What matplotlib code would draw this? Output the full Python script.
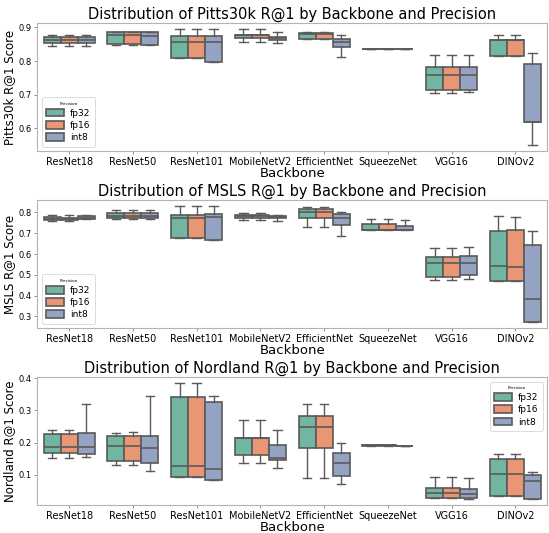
import colorsys
import matplotlib
matplotlib.use("Agg")
import matplotlib.pyplot as plt
from matplotlib.patches import Patch

backbones = ['ResNet18', 'ResNet50', 'ResNet101', 'MobileNetV2', 'EfficientNet',
             'SqueezeNet', 'VGG16', 'DINOv2']
precisions = ['fp32', 'fp16', 'int8']

# (whisker low, Q1, median, Q3, whisker high) per backbone
pitts_fp32 = [(0.846, 0.855, 0.864, 0.870, 0.877), (0.848, 0.850, 0.877, 0.886, 0.887),
              (0.809, 0.809, 0.858, 0.875, 0.895), (0.857, 0.868, 0.876, 0.878, 0.895),
              (0.866, 0.866, 0.879, 0.882, 0.885), (0.836, 0.836, 0.836, 0.837, 0.837),
              (0.706, 0.715, 0.759, 0.782, 0.819), (0.814, 0.814, 0.864, 0.864, 0.876)]
pitts_fp16 = [(0.846, 0.855, 0.864, 0.870, 0.877), (0.848, 0.850, 0.877, 0.886, 0.887),
              (0.809, 0.809, 0.858, 0.875, 0.895), (0.857, 0.868, 0.876, 0.878, 0.895),
              (0.866, 0.866, 0.879, 0.882, 0.885), (0.836, 0.836, 0.836, 0.837, 0.837),
              (0.706, 0.715, 0.759, 0.782, 0.819), (0.814, 0.814, 0.864, 0.864, 0.876)]
pitts_int8 = [(0.846, 0.855, 0.864, 0.871, 0.878), (0.847, 0.849, 0.873, 0.886, 0.887),
              (0.797, 0.797, 0.858, 0.874, 0.896), (0.853, 0.862, 0.867, 0.872, 0.887),
              (0.811, 0.843, 0.856, 0.866, 0.877), (0.835, 0.835, 0.836, 0.837, 0.837),
              (0.707, 0.715, 0.757, 0.782, 0.819), (0.549, 0.620, 0.620, 0.790, 0.823)]

msls_fp32 = [(0.760, 0.763, 0.768, 0.776, 0.790), (0.767, 0.771, 0.783, 0.795, 0.810),
             (0.676, 0.676, 0.773, 0.787, 0.832), (0.765, 0.773, 0.781, 0.787, 0.795),
             (0.729, 0.773, 0.802, 0.816, 0.824), (0.716, 0.716, 0.717, 0.744, 0.767),
             (0.475, 0.490, 0.557, 0.586, 0.630), (0.470, 0.470, 0.543, 0.713, 0.783)]
msls_fp16 = [(0.760, 0.763, 0.767, 0.775, 0.789), (0.767, 0.771, 0.783, 0.795, 0.810),
             (0.676, 0.676, 0.773, 0.788, 0.831), (0.765, 0.773, 0.781, 0.787, 0.795),
             (0.729, 0.773, 0.802, 0.816, 0.824), (0.716, 0.716, 0.717, 0.744, 0.767),
             (0.475, 0.490, 0.557, 0.586, 0.630), (0.470, 0.470, 0.538, 0.716, 0.779)]
msls_int8 = [(0.768, 0.768, 0.774, 0.781, 0.787), (0.767, 0.771, 0.781, 0.795, 0.810),
             (0.668, 0.668, 0.779, 0.792, 0.829), (0.760, 0.771, 0.778, 0.784, 0.789),
             (0.689, 0.741, 0.773, 0.792, 0.802), (0.714, 0.714, 0.716, 0.737, 0.762),
             (0.479, 0.497, 0.557, 0.592, 0.633), (0.271, 0.271, 0.383, 0.641, 0.710)]

nord_fp32 = [(0.153, 0.168, 0.187, 0.226, 0.239), (0.129, 0.143, 0.190, 0.220, 0.230),
             (0.092, 0.092, 0.128, 0.341, 0.386), (0.138, 0.160, 0.214, 0.214, 0.270),
             (0.090, 0.182, 0.247, 0.283, 0.320), (0.189, 0.189, 0.191, 0.193, 0.193),
             (0.026, 0.028, 0.043, 0.059, 0.092), (0.033, 0.033, 0.102, 0.148, 0.164)]
nord_fp16 = [(0.153, 0.168, 0.187, 0.226, 0.239), (0.129, 0.143, 0.190, 0.220, 0.232),
             (0.092, 0.092, 0.128, 0.341, 0.385), (0.138, 0.160, 0.214, 0.214, 0.270),
             (0.090, 0.182, 0.247, 0.283, 0.320), (0.189, 0.189, 0.191, 0.193, 0.193),
             (0.026, 0.028, 0.043, 0.059, 0.092), (0.033, 0.033, 0.102, 0.148, 0.164)]
nord_int8 = [(0.155, 0.165, 0.185, 0.230, 0.320), (0.113, 0.135, 0.184, 0.219, 0.344),
             (0.082, 0.082, 0.117, 0.326, 0.344), (0.120, 0.145, 0.152, 0.194, 0.238),
             (0.071, 0.095, 0.138, 0.168, 0.198), (0.189, 0.189, 0.189, 0.190, 0.190),
             (0.025, 0.028, 0.040, 0.057, 0.089), (0.023, 0.023, 0.079, 0.098, 0.107)]


def desat(hexcol, s=0.75):
    r, g, b = matplotlib.colors.to_rgb(hexcol)
    h, l, sat = colorsys.rgb_to_hls(r, g, b)
    return colorsys.hls_to_rgb(h, l, sat * s)


colors = [desat(c) for c in ['#66c2a5', '#fc8d62', '#8da0cb']]
edge = '#5a5a5a'

panels = [
    ('Pitts30k', [pitts_fp32, pitts_fp16, pitts_int8], 'lower left'),
    ('MSLS', [msls_fp32, msls_fp16, msls_int8], 'lower left'),
    ('Nordland', [nord_fp32, nord_fp16, nord_int8], 'upper right'),
]

fig, axes = plt.subplots(3, 1, figsize=(5.49, 5.33), dpi=100)
plt.subplots_adjust(left=0.068, right=0.997, top=0.957, bottom=0.052, hspace=0.38)

w = 0.8 / 3
for ax, (name, series, loc) in zip(axes, panels):
    for j, data in enumerate(series):
        stats = []
        for lo, q1, med, q3, hi in data:
            stats.append(dict(whislo=lo, q1=q1, med=med, q3=q3, whishi=hi, fliers=[]))
        pos = [i + (j - 1) * w for i in range(len(backbones))]
        bp = ax.bxp(stats, positions=pos, widths=w, patch_artist=True,
                    showfliers=False, manage_ticks=False,
                    boxprops=dict(facecolor=colors[j], edgecolor=edge, linewidth=1.2),
                    medianprops=dict(color=edge, linewidth=1.2),
                    whiskerprops=dict(color=edge, linewidth=1.0),
                    capprops=dict(color=edge, linewidth=1.0))
        for c in bp['caps']:
            x = c.get_xdata()
            mid = (x[0] + x[1]) / 2
            c.set_xdata([mid - w / 4, mid + w / 4])
    ax.set_xlim(-0.5, len(backbones) - 0.5)
    ax.set_xticks(range(len(backbones)))
    ax.set_xticklabels(backbones, fontsize=7)
    ax.tick_params(axis='y', labelsize=6)
    ax.tick_params(length=2.5, width=0.6, pad=1.5, color='0.5')
    ax.set_title(f'Distribution of {name} R@1 by Backbone and Precision', fontsize=10.5, pad=3)
    ax.set_xlabel('Backbone', fontsize=9.5, labelpad=0)
    ax.set_ylabel(f'{name} R@1 Score', fontsize=8.5, labelpad=2)
    for s in ax.spines.values():
        s.set_color('0.7')
        s.set_linewidth(0.8)
    handles = [Patch(facecolor=colors[k], edgecolor=edge, linewidth=1.2, label=p)
               for k, p in enumerate(precisions)]
    leg = ax.legend(handles=handles, title='Precision', loc=loc, fontsize=6.5,
                    title_fontsize=3, handlelength=2.0, handleheight=0.9,
                    labelspacing=0.35, borderpad=0.5, handletextpad=0.6)
    leg.get_frame().set_linewidth(0.6)

fig.savefig('out.png', dpi=100)
